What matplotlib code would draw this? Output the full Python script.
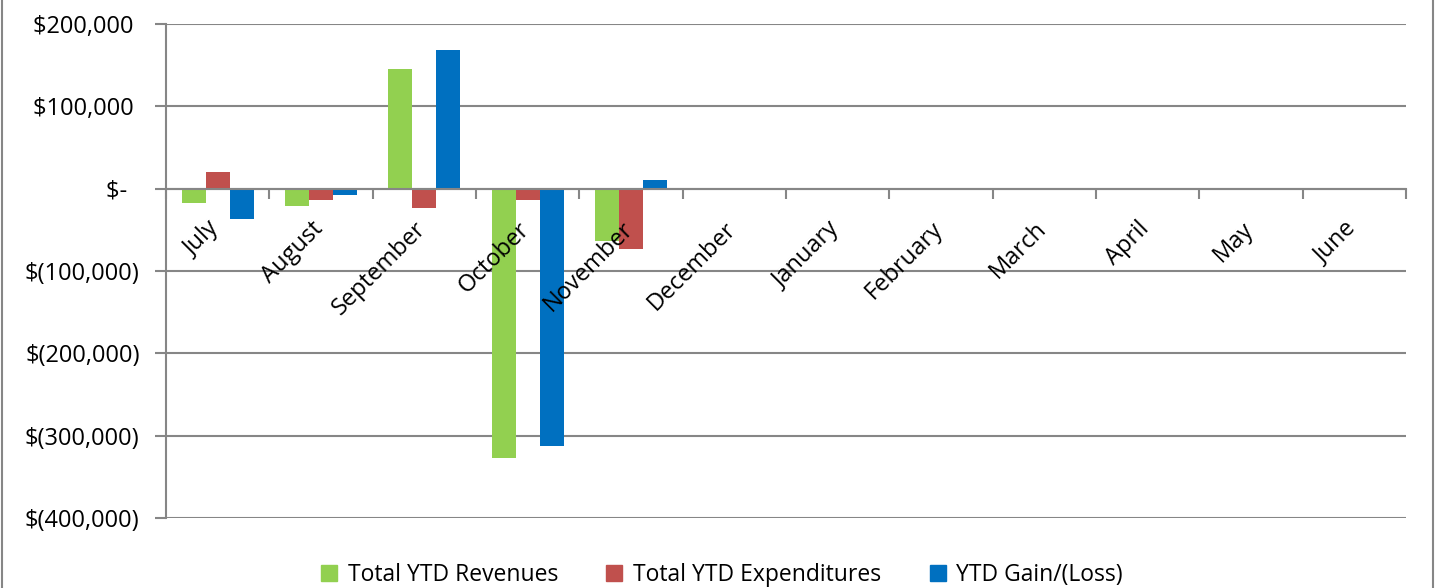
import matplotlib.pyplot as plt
import numpy as np
from matplotlib.lines import Line2D
from matplotlib.ticker import FuncFormatter, FixedLocator
from matplotlib.transforms import ScaledTranslation

months = ['July', 'August', 'September', 'October', 'November', 'December',
          'January', 'February', 'March', 'April', 'May', 'June']
revenues = [-17000, -21500, 145000, -327000, -63000]
expenditures = [20000, -14000, -23000, -14000, -73000]
gain_loss = [-37000, -7500, 168000, -313000, 10000]

series_names = ['Total YTD Revenues', 'Total YTD Expenditures', 'YTD Gain/(Loss)']
colors = ['#92D050', '#C0504D', '#0070C0']

plt.rcParams['font.family'] = ['Open Sans', 'DejaVu Sans']
FS = 17
GRID = '#868686'


def money(v, pos=None):
    # Excel accounting style
    if v == 0:
        return '$-  '
    if v < 0:
        return f'$({-v:,.0f})'
    return f'${v:,.0f} '


fig = plt.figure(figsize=(14.35, 5.88), dpi=100)
ax = fig.add_axes([166 / 1435, 70 / 588, 1240 / 1435, 494 / 588])
ax.set_axisbelow(False)  # month labels are drawn over the bars

x = np.arange(len(months))
w = 0.232
for i, vals in enumerate([revenues, expenditures, gain_loss]):
    ax.bar(x[:len(vals)] + (i - 1) * w, vals, width=w, color=colors[i],
           label=series_names[i], zorder=2)

ax.set_xlim(-0.5, len(months) - 0.5)
ax.set_ylim(-400000, 200000)
ax.set_yticks(np.arange(-400000, 200001, 100000))
ax.yaxis.set_major_formatter(FuncFormatter(money))
# gridlines under the bars
for yv in ax.get_yticks():
    ax.axhline(yv, color=GRID, linewidth=1.5, zorder=1)

# category axis sits on zero
ax.spines['bottom'].set_position(('data', 0))
for s in ['top', 'right']:
    ax.spines[s].set_visible(False)
for s in ['bottom', 'left']:
    ax.spines[s].set_color(GRID)
    ax.spines[s].set_linewidth(1.5)

ax.set_xticks(x)
ax.set_xticklabels(months, rotation=45, ha='right', rotation_mode='anchor',
                   fontsize=FS)
ax.tick_params(axis='x', which='major', length=0, pad=14)
shift = ScaledTranslation(-0.10, -0.09, fig.dpi_scale_trans)
for lbl in ax.get_xticklabels():
    lbl.set_transform(lbl.get_transform() + shift)
ax.xaxis.set_minor_locator(FixedLocator(np.arange(-0.5, len(months), 1.0)))
ax.tick_params(axis='x', which='minor', length=7, width=1.5, color=GRID,
               direction='out')
ax.tick_params(axis='y', length=8, width=1.5, color=GRID, labelsize=FS, pad=11)

handles = [Line2D([], [], marker='s', linestyle='none', markersize=11.5,
                  markerfacecolor=c, markeredgecolor=c) for c in colors]
fig.legend(handles, series_names, loc='lower center', bbox_to_anchor=(0.503, -0.0335),
           ncol=3, frameon=False, fontsize=16.5, handletextpad=0.45,
           columnspacing=2.07, handlelength=0.75)

# chart area border
fig.add_artist(Line2D([0.0015, 0.0015], [0, 1], transform=fig.transFigure,
                      color=GRID, linewidth=1.5))
fig.add_artist(Line2D([0.9985, 0.9985], [0, 1], transform=fig.transFigure,
                      color=GRID, linewidth=1.5))

fig.savefig('out.png', dpi=100)
